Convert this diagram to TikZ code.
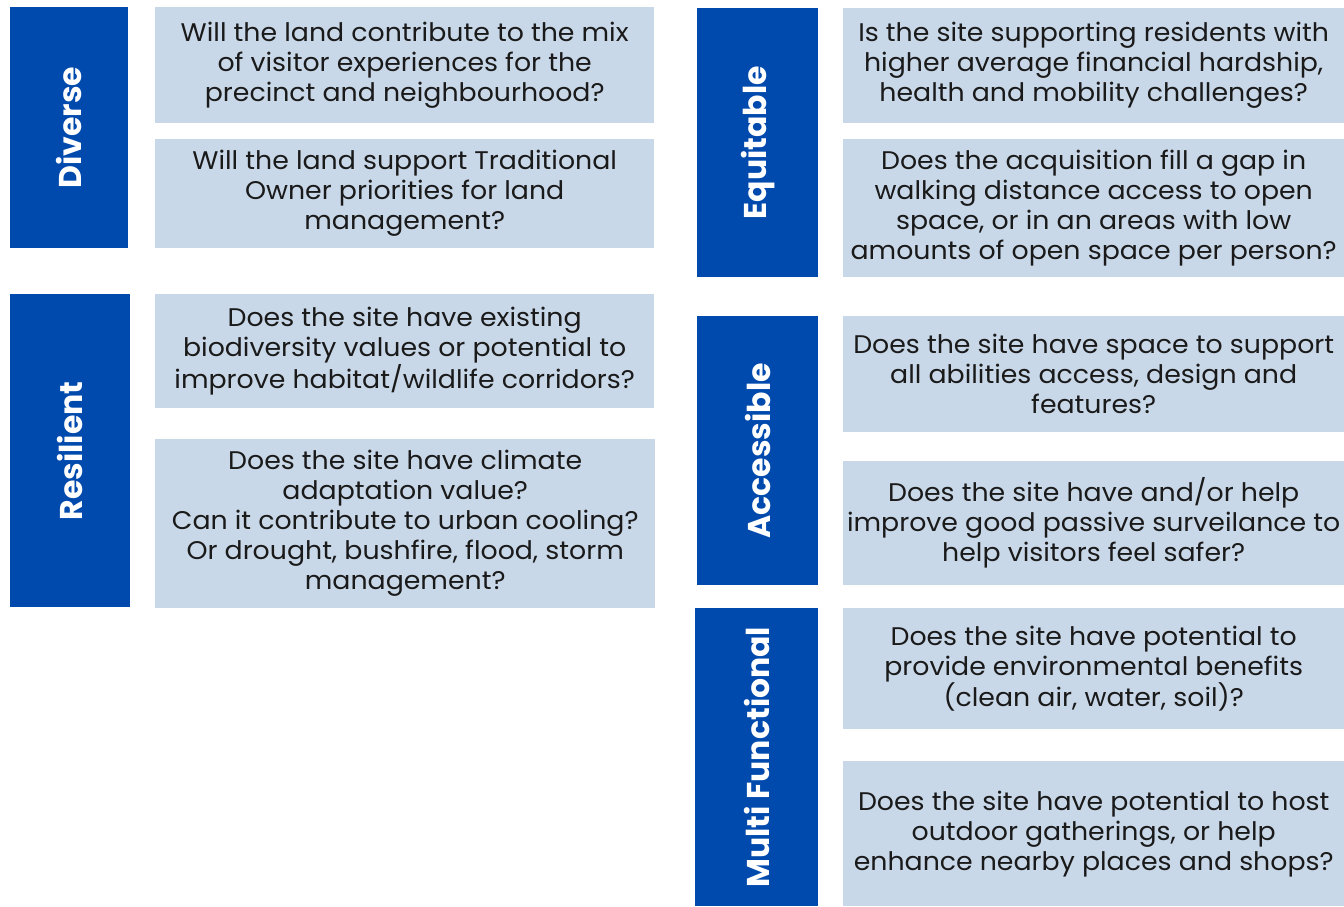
\documentclass[tikz,border=0pt]{standalone}
\usepackage{fontspec}
\setmainfont{Poppins}
\newfontfamily\qfont[FakeStretch=1.05]{Poppins}
\definecolor{pillar}{RGB}{0,74,173}
\definecolor{qbox}{RGB}{201,216,232}
\definecolor{qtext}{RGB}{26,26,26}
\begin{document}
\begin{tikzpicture}[x=1pt,y=-1pt,
  pillarbox/.style={fill=pillar,draw=none,anchor=north west,inner sep=0pt},
  pillarlabel/.style={text=white,font=\fontsize{31.5}{34}\selectfont\bfseries,rotate=90},
  qnode/.style={fill=qbox,draw=none,anchor=north west,inner sep=0pt,align=center,
    text=qtext,font=\qfont\fontsize{25.5}{30}\selectfont}]
\useasboundingbox (0,0) rectangle (1344,906);
% left column
\node[pillarbox,minimum width=118pt,minimum height=241pt] (diverse) at (10,7) {};
\node[pillarlabel] (diverseL) at (diverse.center) {Diverse};
\node[qnode,minimum width=499pt,minimum height=116pt] (q1) at (155,7) {Will the land contribute to the mix\\of visitor experiences for the\\precinct and neighbourhood?};
\node[qnode,minimum width=499pt,minimum height=109pt] (q2) at (155,139) {Will the land support Traditional\\Owner priorities for land\\management?};
\node[pillarbox,minimum width=120pt,minimum height=313pt] (resilient) at (10,294) {};
\node[pillarlabel] (resilientL) at (resilient.center) {Resilient};
\node[qnode,minimum width=499pt,minimum height=114pt] (q3) at (155,294) {Does the site have existing\\biodiversity values or potential to\\improve habitat/wildlife corridors?};
\node[qnode,minimum width=500pt,minimum height=169pt] (q4) at (155,439) {Does the site have climate\\adaptation value?\\Can it contribute to urban cooling?\\Or drought, bushfire, flood, storm\\management?};
% right column
\node[pillarbox,minimum width=121pt,minimum height=269pt] (equitable) at (697,8) {};
\node[pillarlabel] (equitableL) at (equitable.center) {Equitable};
\node[qnode,minimum width=501pt,minimum height=115pt] (q5) at (843,8) {Is the site supporting residents with\\higher average financial hardship,\\health and mobility challenges?};
\node[qnode,minimum width=501pt,minimum height=138pt] (q6) at (843,139) {Does the acquisition fill a gap in\\walking distance access to open\\space, or in an areas with low\\amounts of open space per person?};
\node[pillarbox,minimum width=121pt,minimum height=269pt] (accessible) at (697,316) {};
\node[pillarlabel] (accessibleL) at (accessible.center) {Accessible};
\node[qnode,minimum width=501pt,minimum height=116pt] (q7) at (843,316) {Does the site have space to support\\all abilities access, design and\\features?};
\node[qnode,minimum width=501pt,minimum height=124pt] (q8) at (843,461) {Does the site have and/or help\\improve good passive surveilance to\\help visitors feel safer?};
\node[pillarbox,minimum width=123pt,minimum height=298pt] (multi) at (695,608) {};
\node[pillarlabel] (multiL) at (multi.center) {Multi Functional};
\node[qnode,minimum width=501pt,minimum height=121pt] (q9) at (843,608) {Does the site have potential to\\provide environmental benefits\\(clean air, water, soil)?};
\node[qnode,minimum width=501pt,minimum height=145pt] (q10) at (843,761) {Does the site have potential to host\\outdoor gatherings, or help\\enhance nearby places and shops?};
\end{tikzpicture}
\end{document}
